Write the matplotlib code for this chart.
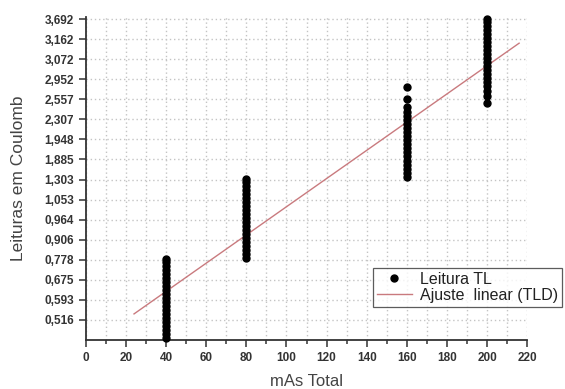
import matplotlib
matplotlib.use("Agg")
import matplotlib.pyplot as plt
from matplotlib.ticker import MultipleLocator

plt.rcParams['font.family'] = ['Liberation Sans', 'DejaVu Sans']

# y axis is a label axis: readings shown at equally spaced positions 0..15
y_labels = ['0,516', '0,593', '0,675', '0,778', '0,906', '0,964', '1,053', '1,303',
            '1,885', '1,948', '2,307', '2,557', '2,952', '3,072', '3,162', '3,692']

# mAs groups and readings (in axis position units)
mas_groups = [40, 80, 160, 200]
pos_40 = [-0.9, -0.7, -0.5, -0.3, -0.1, 0.1, 0.3, 0.5, 0.7, 0.9, 1.1, 1.3, 1.5,
          1.7, 1.9, 2.1, 2.3, 2.5, 2.7, 2.9, 3.05]
pos_80 = [3.1, 3.3, 3.5, 3.7, 3.9, 4.1, 4.3, 4.5, 4.7, 4.9, 5.1, 5.3, 5.5, 5.7,
          5.9, 6.1, 6.3, 6.5, 6.7, 6.9, 7.05]
pos_160 = [7.15, 7.35, 7.55, 7.75, 7.95, 8.15, 8.35, 8.55, 8.75, 8.95, 9.15,
           9.35, 9.55, 9.75, 9.95, 10.15, 10.35, 10.6, 11.0, 11.6]
pos_200 = [10.8, 11.15, 11.4, 11.65, 11.85, 12.05, 12.25, 12.45, 12.65, 12.85,
           13.05, 13.25, 13.45, 13.65, 13.85, 14.05, 14.25, 14.45, 14.65, 14.85, 15.0]

# linear fit line endpoints
fit_x = [24, 216]
fit_y = [0.3, 13.8]

fig = plt.figure(figsize=(5.65, 3.89), dpi=100)
ax = fig.add_axes([0.152, 0.126, 0.781, 0.83])

xs, ys = [], []
for m, vals in zip(mas_groups, [pos_40, pos_80, pos_160, pos_200]):
    xs += [m] * len(vals)
    ys += vals
ax.plot(xs, ys, 'o', color='black', markersize=5.0, linestyle='none',
        label='Leitura TL', zorder=3, clip_on=False)
ax.plot(fit_x, fit_y, color='#c97a7e', linewidth=1.0, label='Ajuste  linear (TLD)', zorder=2)

ax.set_xlim(0, 220)
ax.set_ylim(-1, 15.1)
ax.xaxis.set_major_locator(MultipleLocator(20))
ax.xaxis.set_minor_locator(MultipleLocator(10))
ax.set_yticks(range(len(y_labels)))
ax.set_yticklabels(y_labels)

ax.grid(True, which='both', axis='x', linestyle=(0, (1, 2)), color='#c4c4c4', linewidth=1.0)
ax.grid(True, which='major', axis='y', linestyle=(0, (1, 2)), color='#c4c4c4', linewidth=1.0)
ax.set_axisbelow(True)

for s in ['top', 'right']:
    ax.spines[s].set_visible(False)
for s in ['left', 'bottom']:
    ax.spines[s].set_color('#333333')
    ax.spines[s].set_linewidth(1.3)

ax.tick_params(axis='both', which='major', length=5, width=1.1, color='#333333',
               labelsize=8.5, labelcolor='#333333')
ax.tick_params(axis='x', which='minor', length=3, width=1.1, color='#333333')
for lab in ax.get_xticklabels() + ax.get_yticklabels():
    lab.set_fontweight('bold')

ax.set_xlabel('mAs Total', fontsize=12, color='#444444', labelpad=7)
ax.set_ylabel('Leituras em Coulomb', fontsize=12.5, color='#444444', labelpad=13)

leg = fig.legend(loc='upper left', bbox_to_anchor=(0.66, 0.311), fontsize=11.5,
                 frameon=True, fancybox=False, borderpad=0.25, labelspacing=0.05,
                 handlelength=2.2, handletextpad=0.5, borderaxespad=0)
leg.get_frame().set_edgecolor('#333333')
leg.get_frame().set_linewidth(0.9)
for t in leg.get_texts():
    t.set_color('#222222')

fig.savefig('out.png', dpi=100)
